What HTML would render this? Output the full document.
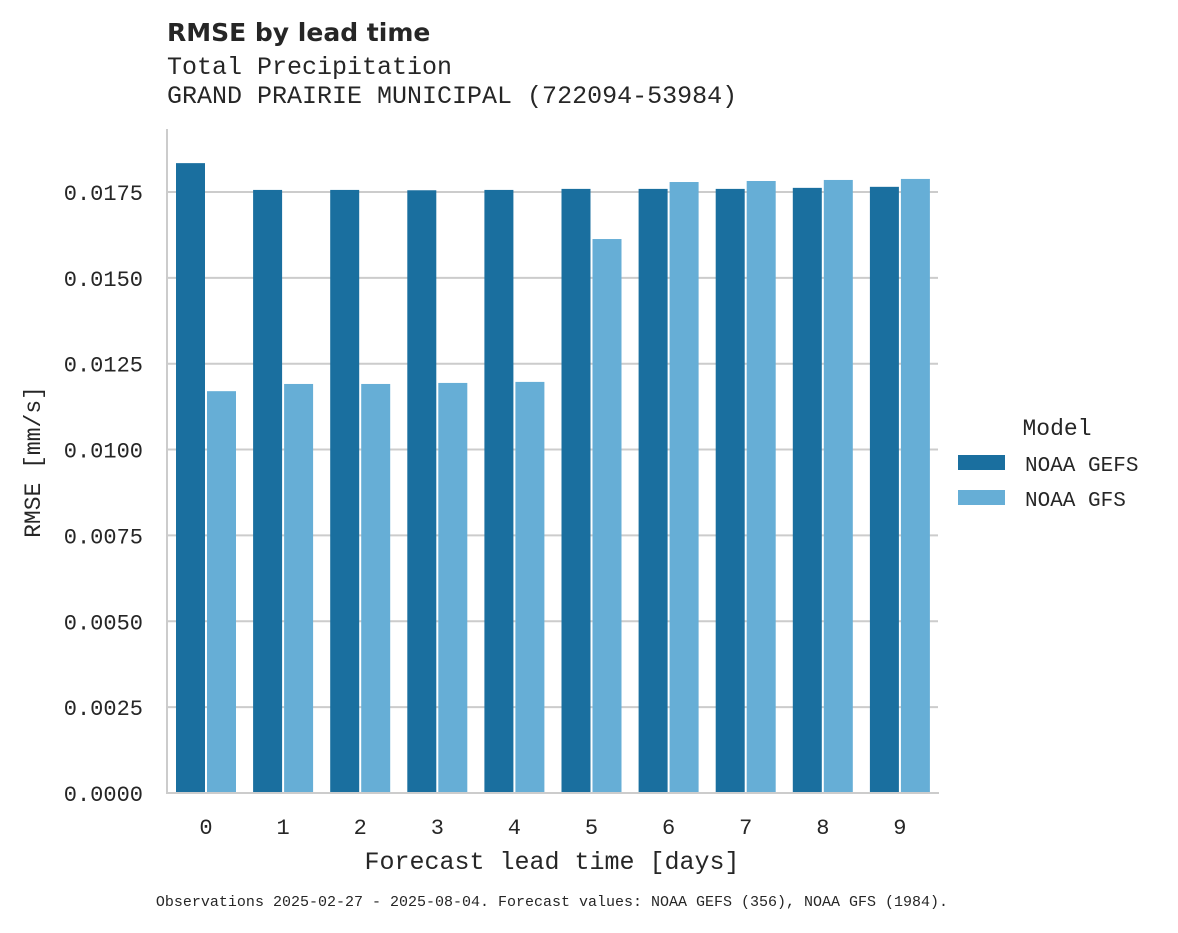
<!DOCTYPE html>
<html><head><meta charset="utf-8"><style>
body{margin:0;background:#fff;}
svg text{font-family:"Liberation Mono","DejaVu Sans Mono",monospace;fill:#262626;}
</style></head><body>
<svg width="1178" height="928" xmlns="http://www.w3.org/2000/svg">
<text x="167" y="41" font-size="25" font-weight="bold" style="font-family:'DejaVu Sans','Liberation Sans',sans-serif">RMSE by lead time</text>
<text x="167" y="74" font-size="25">Total Precipitation</text>
<text x="167" y="103" font-size="25">GRAND PRAIRIE MUNICIPAL (722094-53984)</text>
<g id="grid"></g>
<g id="bars"></g>
<g id="yticks"></g>
<g id="xticks"></g>
<line x1="167" y1="129" x2="167" y2="794" stroke="#cccccc" stroke-width="2"/>
<line x1="166" y1="793" x2="939" y2="793" stroke="#cccccc" stroke-width="2"/>
<text x="40" y="462" font-size="23" text-anchor="middle" transform="rotate(-90 40 462)">RMSE [mm/s]</text>
<text x="552" y="869" font-size="25" text-anchor="middle">Forecast lead time [days]</text>
<g>
<text x="1057" y="435" font-size="23" text-anchor="middle">Model</text>
<rect x="958" y="455" width="47" height="15" fill="#1a6f9f"/>
<text x="1025" y="471" font-size="21">NOAA GEFS</text>
<rect x="958" y="490" width="47" height="15" fill="#66aed6"/>
<text x="1025" y="506" font-size="21">NOAA GFS</text>
</g>
<text x="552" y="906" font-size="15" text-anchor="middle">Observations 2025-02-27 - 2025-08-04. Forecast values: NOAA GEFS (356), NOAA GFS (1984).</text>
</svg>
<script>
const categories=["0","1","2","3","4","5","6","7","8","9"];
const gefsValues=[0.01834,0.01756,0.01756,0.01755,0.01756,0.01759,0.01759,0.01759,0.01762,0.01765];
const gfsValues=[0.01170,0.01191,0.01191,0.01194,0.01197,0.01613,0.01779,0.01782,0.01785,0.01788];
const yTicks=[0,0.0025,0.005,0.0075,0.01,0.0125,0.015,0.0175];
const NS="http://www.w3.org/2000/svg";
const y=v=>793-v/0.0025*85.86;
const x=i=>206+i*77.1;
function mk(tag,attrs,parent){const e=document.createElementNS(NS,tag);for(const k in attrs)e.setAttribute(k,attrs[k]);document.getElementById(parent).appendChild(e);return e;}
yTicks.forEach(t=>{
  if(t>0){const l=mk('line',{x1:168,x2:938,y1:y(t),y2:y(t),stroke:'#cccccc','stroke-width':2},'grid');
  
  }
  const tx=mk('text',{x:143,y:y(t)+8,'font-size':22,'text-anchor':'end'},'yticks');
  tx.textContent=t.toFixed(4);
  
  
});
categories.forEach((c,i)=>{
  const b1=mk('rect',{x:x(i)-30,y:y(gefsValues[i]),width:29,height:793-y(gefsValues[i]),fill:'#1a6f9f'},'bars');
  
  
  const b2=mk('rect',{x:x(i)+1,y:y(gfsValues[i]),width:29,height:793-y(gfsValues[i]),fill:'#66aed6'},'bars');
  
  
  const t=mk('text',{x:x(i),y:834,'font-size':22,'text-anchor':'middle'},'xticks');
  t.textContent=c;
  
  
});
</script>
</body></html>
